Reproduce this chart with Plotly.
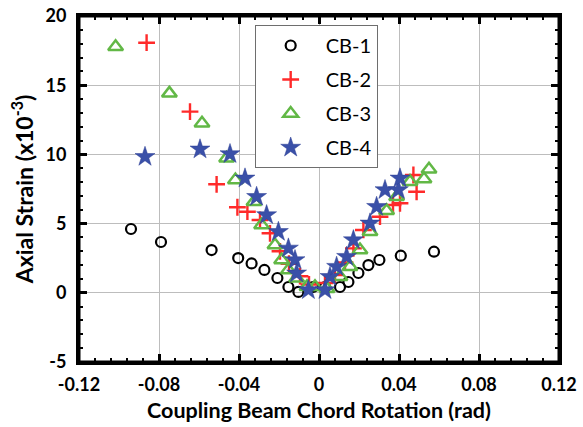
import plotly.graph_objects as go

cb1_x = [-0.094, -0.079, -0.0537, -0.0404, -0.0337, -0.0273, -0.0208, -0.0153, -0.0103,
         -0.003, 0.003, 0.0105, 0.0147, 0.0197, 0.0247, 0.0302, 0.0409, 0.0575]
cb1_y = [4.61, 3.67, 3.09, 2.51, 2.12, 1.65, 1.07, 0.42, 0.06,
         0.42, 0.42, 0.42, 0.78, 1.43, 2.0, 2.37, 2.68, 2.97]

cb2_x = [-0.0862, -0.0645, -0.0512, -0.0408, -0.0358, -0.0295, -0.0245, -0.0195, -0.015, -0.0095, -0.005,
         0.003, 0.008, 0.013, 0.0172, 0.0222, 0.0305, 0.037, 0.0405, 0.0488, 0.0472]
cb2_y = [18.07, 13.09, 7.84, 6.18, 5.86, 5.26, 4.3, 3.0, 2.1, 1.2, 0.6,
         0.71, 1.29, 2.2, 3.21, 4.54, 5.5, 6.34, 6.47, 7.3, 8.51]

cb3_x = [-0.1017, -0.0748, -0.0585, -0.0462, -0.0418, -0.0325, -0.0287, -0.022, -0.0187, -0.0153, -0.0112, -0.006, -0.002,
         0.004, 0.0105, 0.0155, 0.0205, 0.0255, 0.0338, 0.0388, 0.0455, 0.0525, 0.055]
cb3_y = [17.78, 14.41, 12.25, 9.72, 8.15, 6.58, 4.9, 3.45, 2.37, 1.65, 1.05, 0.44, 0.44,
         0.3, 1.16, 1.89, 3.09, 4.41, 5.93, 6.94, 8.03, 8.22, 8.92]

cb4_x = [-0.087, -0.0595, -0.0445, -0.037, -0.0312, -0.0262, -0.0203, -0.0153, -0.012, -0.0112, -0.0053,
         0.003, 0.0055, 0.0088, 0.0138, 0.0172, 0.0255, 0.0288, 0.033, 0.0397, 0.0405]
cb4_y = [9.83, 10.37, 10.03, 8.27, 6.94, 5.62, 4.41, 3.21, 2.37, 1.41, 0.2,
         0.2, 1.16, 1.89, 2.61, 3.81, 5.02, 6.22, 7.43, 7.43, 8.27]

x_ticks = [-0.12, -0.08, -0.04, 0, 0.04, 0.08, 0.12]
x_labels = ["-0.12", "-0.08", "-0.04", "0", "0.04", "0.08", "0.12"]
y_ticks = [-5, 0, 5, 10, 15, 20]
y_labels = ["-5", "0", "5", "10", "15", "20"]

FONT = "Lato"

fig = go.Figure()
fig.add_trace(go.Scatter(x=cb1_x, y=cb1_y, mode="markers", name="CB-1", legendgroup="a",
                         marker=dict(symbol="circle-open", size=10, color="black", line=dict(width=2.2))))
fig.add_trace(go.Scatter(x=cb2_x, y=cb2_y, mode="markers", name="CB-2", legendgroup="b",
                         marker=dict(symbol="cross-thin-open", size=12, color="#ff2a2a", line=dict(width=2.4, color="#ff2a2a"))))
fig.add_trace(go.Scatter(x=cb3_x, y=cb3_y, mode="markers", name="CB-3", legendgroup="c",
                         marker=dict(symbol="triangle-up-open", size=13, color="#62b846", line=dict(width=2.5))))
fig.add_trace(go.Scatter(x=cb4_x, y=cb4_y, mode="markers", name="CB-4", legendgroup="d",
                         marker=dict(symbol="star", size=15, color="#3a50a8", line=dict(width=0.5, color="#2d3f95"))))

axis_common = dict(
    showline=True, linecolor="#000000", linewidth=3, mirror="ticks",
    ticks="inside", ticklen=8, tickwidth=2.5, tickcolor="#000000",
    showgrid=True, gridcolor="#bdbdbd", gridwidth=1, zeroline=False,
    automargin=False, layer="above traces",
    tickfont=dict(family=FONT, size=18, color="black", weight="bold"),
)

fig.update_xaxes(range=[-0.12, 0.12], tickvals=x_ticks, ticktext=x_labels,
                 minor=dict(ticks="inside", dtick=0.008, ticklen=4, tickwidth=2, tickcolor="#000000", showgrid=False),
                 ticklabelstandoff=4,
                 title=dict(text="Coupling Beam Chord Rotation (rad)", font=dict(family=FONT, size=21.5, color="black", weight="bold"), standoff=10),
                 **axis_common)
fig.update_yaxes(range=[-5, 20], tickvals=y_ticks, ticktext=y_labels,
                 minor=dict(ticks="inside", dtick=1, ticklen=4, tickwidth=2, tickcolor="#000000", showgrid=False),
                 ticklabelstandoff=6,
                 title=dict(text="Axial Strain (x10<sup>-3</sup>)", font=dict(family=FONT, size=23, color="black", weight="bold"), standoff=6),
                 **axis_common)

fig.add_shape(type="rect", xref="paper", yref="paper", x0=0, x1=1, y0=0, y1=1,
              line=dict(color="#000000", width=3), fillcolor="rgba(0,0,0,0)", layer="above")

fig.update_layout(
    width=583, height=427,
    margin=dict(l=79, r=24, t=16, b=65),
    paper_bgcolor="white", plot_bgcolor="white",
    showlegend=True,
    legend=dict(x=0.366, y=0.974, xanchor="left", yanchor="top",
                bordercolor="#6e6e6e", borderwidth=1, bgcolor="white",
                font=dict(family=FONT, size=20, color="black"),
                tracegroupgap=5, itemwidth=60),
)

fig.write_html("out.html")
